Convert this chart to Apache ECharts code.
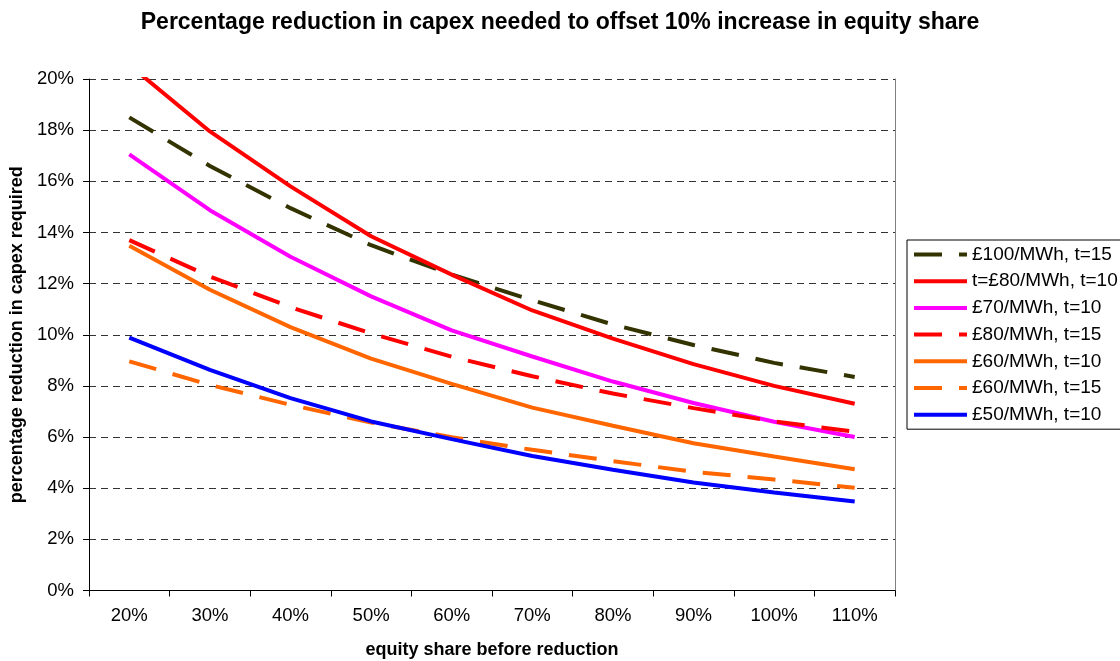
<!DOCTYPE html>
<html>
<head>
<meta charset="utf-8">
<script src="https://cdn.jsdelivr.net/npm/echarts@6/dist/echarts.min.js"></script>
<style>html,body{margin:0;padding:0;background:#fff}#c{width:1120px;height:661px}</style>
</head>
<body>
<div id="c"></div>
<script>
const categories = ['20%','30%','40%','50%','60%','70%','80%','90%','100%','110%'];
const yTicks = [0,2,4,6,8,10,12,14,16,18,20];
const s100t15 = [18.5, 16.6, 14.95, 13.5, 12.35, 11.35, 10.4, 9.6, 8.9, 8.35];
const s80t10  = [20.55, 17.95, 15.8, 13.85, 12.35, 10.95, 9.85, 8.85, 8.0, 7.3];
const s70t10  = [17.05, 14.87, 13.05, 11.5, 10.17, 9.15, 8.17, 7.33, 6.6, 6.0];
const s80t15  = [13.7, 12.28, 11.08, 10.05, 9.14, 8.38, 7.7, 7.13, 6.61, 6.21];
const s60t10  = [13.48, 11.76, 10.3, 9.07, 8.08, 7.15, 6.44, 5.76, 5.24, 4.74];
const s60t15  = [8.96, 8.04, 7.26, 6.57, 5.99, 5.5, 5.06, 4.64, 4.34, 4.02];
const s50t10  = [9.89, 8.63, 7.52, 6.61, 5.92, 5.26, 4.72, 4.22, 3.83, 3.48];
const names = ['£100/MWh, t=15','t=£80/MWh, t=10','£70/MWh, t=10','£80/MWh, t=15','£60/MWh, t=10','£60/MWh, t=15','£50/MWh, t=10'];

const FONT = '"Liberation Sans", Arial, sans-serif';
function mk(name, data, color, dashed) {
  return {
    name, type: 'line', data, symbol: 'none', showSymbol: false, clip: true,
    lineStyle: { color, width: 4, type: dashed ? [28, 17] : 'solid', cap: 'butt' },
    itemStyle: { color },
    emphasis: { disabled: true }, animation: false
  };
}
const chart = echarts.init(document.getElementById('c'), null, { renderer: 'canvas' });
chart.setOption({
  animation: false,
  backgroundColor: '#fff',
  title: {
    text: 'Percentage reduction in capex needed to offset 10% increase in equity share',
    left: 'center', top: 6,
    textStyle: { fontFamily: FONT, fontSize: 23, fontWeight: 'bold', color: '#000' }
  },
  legend: {
    orient: 'vertical', left: 907, top: 240,
    data: names,
    itemWidth: 53, itemHeight: 18, itemGap: 7.7,
    padding: [5, 20, 5, 5],
    borderColor: '#000', borderWidth: 1,
    itemStyle: { opacity: 0 },
    lineStyle: { width: 4 },
    textStyle: { fontFamily: FONT, fontSize: 19, color: '#000' },
    selectedMode: false
  },
  grid: { left: 89, right: 225, top: 79, bottom: 70.5, containLabel: false, outerBoundsMode: 'none' },
  xAxis: {
    type: 'category', data: categories, boundaryGap: true,
    name: 'equity share before reduction', nameLocation: 'middle', nameGap: 51,
    nameTextStyle: { fontFamily: FONT, fontSize: 18, fontWeight: 'bold', color: '#000' },
    axisLine: { lineStyle: { color: '#000', width: 1 } },
    axisTick: { show: true, alignWithLabel: false, length: 6, inside: false, lineStyle: { color: '#000' } },
    axisLabel: { fontFamily: FONT, fontSize: 18.5, color: '#000', margin: 16 },
    splitLine: { show: false }
  },
  yAxis: [{
    type: 'value', min: 0, max: 20, interval: 2,
    name: 'percentage reduction in capex required', nameLocation: 'middle', nameGap: 60,
    nameTextStyle: { fontFamily: FONT, fontSize: 18, fontWeight: 'bold', color: '#000' },
    axisLine: { show: true, lineStyle: { color: '#000', width: 1 } },
    axisTick: { show: true, length: 6, lineStyle: { color: '#000' } },
    axisLabel: { fontFamily: FONT, fontSize: 18.5, color: '#000', margin: 15, formatter: '{value}%' },
    splitLine: { show: true, lineStyle: { color: '#333', width: 1, type: [7, 5] } }
  }, {
    type: 'value', min: 0, max: 20, interval: 2, position: 'right',
    axisLine: { show: true, lineStyle: { color: '#808080', width: 1 } },
    axisTick: { show: false }, axisLabel: { show: false }, splitLine: { show: false }
  }],
  series: [
    mk(names[0], s100t15, '#333300', true),
    mk(names[1], s80t10, '#FF0000', false),
    mk(names[2], s70t10, '#FF00FF', false),
    mk(names[3], s80t15, '#FF0000', true),
    mk(names[4], s60t10, '#FF6600', false),
    mk(names[5], s60t15, '#FF6600', true),
    mk(names[6], s50t10, '#0000FF', false)
  ]
});
</script>
</body>
</html>
